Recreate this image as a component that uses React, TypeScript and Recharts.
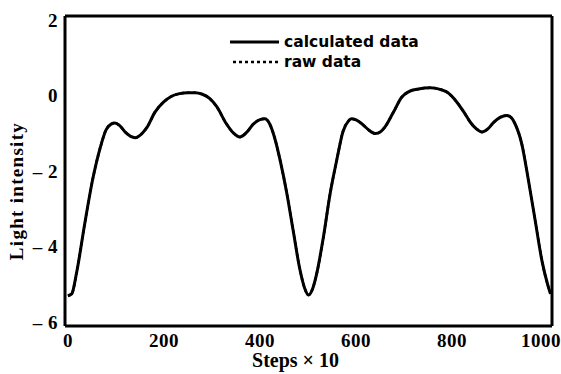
import { LineChart, Line, XAxis, YAxis, Legend, ReferenceLine } from 'recharts'

// readings taken along the curve (steps x 10)
const STEPS = [
  0, 8, 18, 35, 52, 67, 80, 90, 98, 108, 120, 140, 155, 165, 181, 199, 215, 230, 250, 265,
  280, 295, 310, 330, 345, 358, 372, 386, 400, 410, 420, 430, 442, 456, 469, 483, 493, 501, 510, 518,
  532, 546, 560, 573, 584, 590, 600, 612, 625, 640, 652, 660, 678, 695, 710, 730, 754, 775, 790, 810,
  825, 838, 850, 862, 875, 886, 900, 914, 924, 931, 945, 959, 973, 987, 1000, 1005,
]
const CALCULATED = [
  -5.3, -5.25, -4.7, -3.4, -2.2, -1.4, -0.9, -0.76, -0.73, -0.8, -0.98, -1.12, -1.0, -0.84, -0.45, -0.18, -0.03, 0.04, 0.07, 0.07,
  0.03, -0.08, -0.3, -0.75, -1.0, -1.1, -0.98, -0.76, -0.64, -0.62, -0.75, -1.1, -1.72, -2.6, -3.57, -4.6, -5.1, -5.28, -5.1, -4.72,
  -3.75, -2.6, -1.7, -0.95, -0.68, -0.62, -0.65, -0.75, -0.9, -1.01, -0.95, -0.84, -0.44, -0.05, 0.1, 0.17, 0.2, 0.16, 0.08, -0.18,
  -0.45, -0.71, -0.88, -0.97, -0.88, -0.72, -0.58, -0.53, -0.6, -0.75, -1.28, -2.25, -3.31, -4.37, -5.05, -5.25,
]
// raw data lies on top of the calculated curve in the picture
const RAW = CALCULATED

const X_TICKS = [0, 200, 400, 600, 800, 1000]
const Y_TICKS = [-6, -4, -2, 0, 2]
const X_DOMAIN = [-6, 1008]
const Y_DOMAIN = [-6.1, 2.1]

const data = STEPS.map((step, i) => ({ step, calculated: CALCULATED[i], raw: RAW[i] }))

const SERIF = '"Liberation Serif", "Times New Roman", serif'
const tickStyle = { fontSize: 19, fontWeight: 700, fill: '#000', fontFamily: SERIF, letterSpacing: 0.5 }

function LegendBox() {
  const row = { display: 'flex', alignItems: 'center', height: 20 }
  const text = { marginLeft: 5, fontFamily: '"DejaVu Sans", sans-serif', fontWeight: 700, fontSize: 15.5, color: '#000' }
  return (
    <div>
      <div style={row}>
        <svg width={50} height={10}>
          <line x1={1} y1={5} x2={50} y2={5} stroke="#000" strokeWidth={3} />
        </svg>
        <span style={text}>calculated data</span>
      </div>
      <div style={row}>
        <svg width={50} height={10}>
          <line x1={4} y1={5} x2={50} y2={5} stroke="#000" strokeWidth={2.5} strokeDasharray="3 3" />
        </svg>
        <span style={text}>raw data</span>
      </div>
    </div>
  )
}

export default function App() {
  return (
    <div style={{ position: 'absolute', left: 0, top: 0, width: 561, height: 374, background: '#fff' }}>
      <LineChart width={561} height={374} data={data} margin={{ top: 16, right: 9, bottom: 0, left: 0 }}>
        <XAxis
          dataKey="step"
          type="number"
          domain={X_DOMAIN}
          ticks={X_TICKS}
          tick={tickStyle}
          tickLine={false}
          tickMargin={2}
          height={48}
          axisLine={{ stroke: '#000', strokeWidth: 3 }}
        />
        <YAxis
          type="number"
          domain={Y_DOMAIN}
          ticks={Y_TICKS}
          tick={tickStyle}
          tickFormatter={(v: number) => (v < 0 ? `– ${-v}` : `${v}`)}
          tickLine={false}
          tickSize={6}
          tickMargin={1}
          width={65}
          axisLine={{ stroke: '#000', strokeWidth: 3 }}
          label={{
            content: () => (
              <text
                x={23}
                y={191}
                transform="rotate(-90 23 191)"
                textAnchor="middle"
                fontFamily={SERIF}
                fontWeight={700}
                fontSize={19}
                letterSpacing={1.3}
                fill="#000"
              >
                Light intensity
              </text>
            ),
          }}
        />
        {/* top and right edges of the frame */}
        <ReferenceLine y={Y_DOMAIN[1]} stroke="#000" strokeWidth={3} />
        <ReferenceLine x={X_DOMAIN[1]} stroke="#000" strokeWidth={3} />
        <Legend
          layout="vertical"
          align="center"
          verticalAlign="middle"
          content={() => <LegendBox />}
          wrapperStyle={{ top: 32, left: 229, width: 'auto' }}
        />
        <Line
          dataKey="raw"
          type="monotone"
          stroke="#000"
          strokeWidth={2.5}
          strokeDasharray="3 3"
          dot={false}
          isAnimationActive={false}
        />
        <Line
          dataKey="calculated"
          type="monotone"
          stroke="#000"
          strokeWidth={3}
          dot={false}
          isAnimationActive={false}
        />
      </LineChart>
      <div
        style={{
          position: 'absolute',
          left: 0,
          width: 561,
          top: 349,
          textAlign: 'center',
          paddingLeft: 30,
          boxSizing: 'border-box',
          fontFamily: SERIF,
          fontWeight: 700,
          fontSize: 20,
          lineHeight: '22px',
        }}
      >
        Steps × 10
      </div>
    </div>
  )
}
